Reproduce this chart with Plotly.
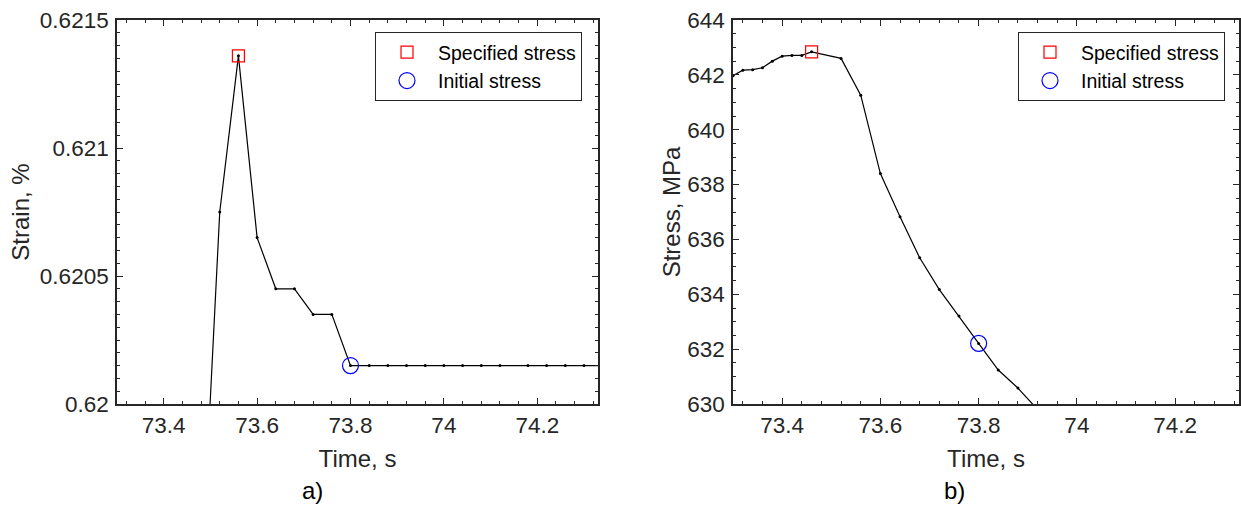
import plotly.graph_objects as go

# ---- data -------------------------------------------------------------
strain_time = [73.48, 73.52, 73.56, 73.60, 73.64, 73.68, 73.72, 73.76, 73.80,
               73.84, 73.88, 73.92, 73.96, 74.00, 74.04, 74.08, 74.12, 74.18,
               74.22, 74.26, 74.30, 74.34]
strain_pct = [0.6193, 0.62075, 0.62136, 0.62065, 0.62045, 0.62045, 0.62035,
              0.62035, 0.62015, 0.62015, 0.62015, 0.62015, 0.62015, 0.62015,
              0.62015, 0.62015, 0.62015, 0.62015, 0.62015, 0.62015, 0.62015,
              0.62015]
strain_specified = (73.56, 0.62136)
strain_initial = (73.80, 0.62015)

stress_time = [73.30, 73.32, 73.34, 73.36, 73.38, 73.40, 73.42, 73.44, 73.46,
               73.52, 73.56, 73.60, 73.64, 73.68, 73.72, 73.76, 73.80, 73.84,
               73.88, 73.92]
stress_mpa = [641.97, 642.17, 642.19, 642.26, 642.50, 642.68, 642.71, 642.71,
              642.84, 642.60, 641.26, 638.40, 636.83, 635.33, 634.17, 633.21,
              632.21, 631.24, 630.58, 629.80]
stress_specified = (73.46, 642.84)
stress_initial = (73.80, 632.21)

time_ticks = [73.4, 73.6, 73.8, 74.0, 74.2]
time_tick_labels = ["73.4", "73.6", "73.8", "74", "74.2"]
strain_ticks = [0.62, 0.6205, 0.621, 0.6215]
strain_tick_labels = ["0.62", "0.6205", "0.621", "0.6215"]
stress_ticks = [630, 632, 634, 636, 638, 640, 642, 644]
stress_tick_labels = [str(v) for v in stress_ticks]

# ---- styling ----------------------------------------------------------
W, H = 1241, 507
INK = "#262626"
FONT = "Liberation Sans, Arial, Helvetica, sans-serif"


def px_x(p):
    return p / W


def px_y(p):
    return 1 - p / H


def axis_style(**kw):
    base = dict(
        showline=True, linecolor=INK, linewidth=1.6, mirror="ticks",
        ticks="inside", ticklen=6, tickwidth=1.4, tickcolor=INK,
        showgrid=False, zeroline=False, automargin=False,
        tickfont=dict(size=22.5, color=INK, family=FONT),
        title_font=dict(size=24, color=INK, family=FONT),
        tickmode="array",
    )
    base.update(kw)
    return base


fig = go.Figure()

# strain panel
fig.add_trace(go.Scatter(
    x=strain_time, y=strain_pct, mode="lines+markers",
    line=dict(color="black", width=1.2),
    marker=dict(color="black", size=3),
    showlegend=False, xaxis="x", yaxis="y"))
fig.add_trace(go.Scatter(
    x=[strain_specified[0]], y=[strain_specified[1]], mode="markers",
    name="Specified stress",
    marker=dict(symbol="square-open", size=12, color="red", line=dict(width=1.2)),
    xaxis="x", yaxis="y", legend="legend"))
fig.add_trace(go.Scatter(
    x=[strain_initial[0]], y=[strain_initial[1]], mode="markers",
    name="Initial stress",
    marker=dict(symbol="circle-open", size=16, color="blue", line=dict(width=1.2)),
    xaxis="x", yaxis="y", legend="legend"))

# stress panel
fig.add_trace(go.Scatter(
    x=stress_time, y=stress_mpa, mode="lines+markers",
    line=dict(color="black", width=1.2),
    marker=dict(color="black", size=3),
    showlegend=False, xaxis="x2", yaxis="y2"))
fig.add_trace(go.Scatter(
    x=[stress_specified[0]], y=[stress_specified[1]], mode="markers",
    name="Specified stress",
    marker=dict(symbol="square-open", size=12, color="red", line=dict(width=1.2)),
    xaxis="x2", yaxis="y2", legend="legend2"))
fig.add_trace(go.Scatter(
    x=[stress_initial[0]], y=[stress_initial[1]], mode="markers",
    name="Initial stress",
    marker=dict(symbol="circle-open", size=16, color="blue", line=dict(width=1.2)),
    xaxis="x2", yaxis="y2", legend="legend2"))

ydom = [px_y(404), px_y(20)]
legend_common = dict(
    bgcolor="white", bordercolor=INK, borderwidth=1,
    font=dict(size=19.5, color="black", family=FONT),
    xanchor="right", yanchor="top", tracegroupgap=0, itemwidth=52,
)
minor_x = dict(ticks="inside", ticklen=3, tickwidth=1.2, tickcolor=INK,
               tick0=73.4, dtick=0.04)

fig.update_layout(
    width=W, height=H,
    margin=dict(l=0, r=0, t=0, b=0, autoexpand=False),
    paper_bgcolor="white", plot_bgcolor="white",
    font=dict(family=FONT, color=INK),
    xaxis=axis_style(
        domain=[px_x(117), px_x(598)], range=[73.30, 74.33], anchor="y",
        tickvals=time_ticks, ticktext=time_tick_labels, ticklabelstandoff=0,
        minor=minor_x,
        title=dict(text="Time, s", standoff=13)),
    yaxis=axis_style(
        domain=ydom, range=[0.62, 0.6215], anchor="x",
        tickvals=strain_ticks, ticktext=strain_tick_labels, ticklabelstandoff=2,
        minor=dict(ticks="inside", ticklen=3, tickwidth=1.2, tickcolor=INK,
                   tick0=0.62, dtick=0.00005),
        title=dict(text="Strain, %", standoff=3)),
    xaxis2=axis_style(
        domain=[px_x(733), px_x(1239)], range=[73.30, 74.33], anchor="y2",
        tickvals=time_ticks, ticktext=time_tick_labels, ticklabelstandoff=0,
        minor=minor_x,
        title=dict(text="Time, s", standoff=13)),
    yaxis2=axis_style(
        domain=ydom, range=[630, 644], anchor="x2",
        tickvals=stress_ticks, ticktext=stress_tick_labels, ticklabelstandoff=2,
        minor=dict(ticks="inside", ticklen=3, tickwidth=1.2, tickcolor=INK,
                   tick0=630, dtick=0.5),
        title=dict(text="Stress, MPa", standoff=0)),
    legend=dict(x=px_x(582), y=px_y(32), **legend_common),
    legend2=dict(x=px_x(1225), y=px_y(32), **legend_common),
    annotations=[
        dict(text="a)", x=px_x(312), y=px_y(490), xref="paper", yref="paper",
             xanchor="center", yanchor="middle", showarrow=False,
             font=dict(size=24, color="black", family=FONT)),
        dict(text="b)", x=px_x(954), y=px_y(490), xref="paper", yref="paper",
             xanchor="center", yanchor="middle", showarrow=False,
             font=dict(size=24, color="black", family=FONT)),
    ],
)

fig.write_html("out.html")
